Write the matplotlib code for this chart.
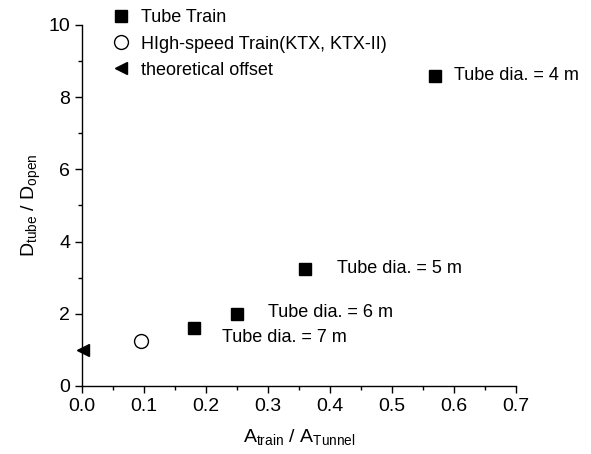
#
# Tube train vs open-air drag ratio scatter
#
import matplotlib
matplotlib.use('Agg')
import matplotlib.pyplot as plt
from matplotlib.ticker import MultipleLocator

plt.rcParams['font.family'] = ['Liberation Sans', 'DejaVu Sans']
plt.rcParams['mathtext.fontset'] = 'custom'
plt.rcParams['mathtext.rm'] = 'Liberation Sans'
plt.rcParams['mathtext.it'] = 'Liberation Sans'

# Data
tube_x = [0.18, 0.25, 0.36, 0.57]
tube_y = [1.6, 2.0, 3.24, 8.6]
tube_labels = ['Tube dia. = 7 m', 'Tube dia. = 6 m', 'Tube dia. = 5 m', 'Tube dia. = 4 m']
label_x = [0.226, 0.30, 0.412, 0.60]
label_y = [1.33, 2.02, 3.24, 8.6]
ktx_x = [0.095]
ktx_y = [1.25]
theory_x = [0.002]
theory_y = [1.0]

fig = plt.figure(figsize=(5.91, 4.54), dpi=100)
ax = fig.add_axes([0.139, 0.15, 0.734, 0.795])

h1, = ax.plot(tube_x, tube_y, 's', color='black', markersize=9, linestyle='none',
              label='Tube Train')
h2, = ax.plot(ktx_x, ktx_y, 'o', markerfacecolor='white', markeredgecolor='black',
              markersize=10, markeredgewidth=1.0, linestyle='none',
              label='HIgh-speed Train(KTX, KTX-II)')
h3, = ax.plot(theory_x, theory_y, '<', color='black', markersize=9, linestyle='none',
              clip_on=False, label='theoretical offset')

for lx, ly, txt in zip(label_x, label_y, tube_labels):
    ax.text(lx, ly, txt, fontsize=13, va='center', ha='left')

ax.set_xlim(0, 0.7)
ax.set_ylim(0, 10)
ax.xaxis.set_major_locator(MultipleLocator(0.1))
ax.xaxis.set_minor_locator(MultipleLocator(0.05))
ax.yaxis.set_major_locator(MultipleLocator(2))
ax.yaxis.set_minor_locator(MultipleLocator(1))
ax.tick_params(which='major', direction='out', length=5, width=1, labelsize=14)
ax.tick_params(which='minor', direction='out', length=3, width=1)
for s in ['top', 'right']:
    ax.spines[s].set_visible(False)
for s in ['left', 'bottom']:
    ax.spines[s].set_linewidth(1.0)

ax.set_xlabel(r'A$_{\mathrm{train}}$ / A$_{\mathrm{Tunnel}}$', fontsize=14, labelpad=9)
ax.set_ylabel(r'D$_{\mathrm{tube}}$ / D$_{\mathrm{open}}$', fontsize=14, labelpad=4)

fig.legend(handles=[h1, h2, h3], loc='upper left', bbox_to_anchor=(0.175, 0.995),
           frameon=False, fontsize=13, handletextpad=0.5, labelspacing=0.5,
           handlelength=1.2, borderaxespad=0)

fig.savefig('out.png', dpi=100)
